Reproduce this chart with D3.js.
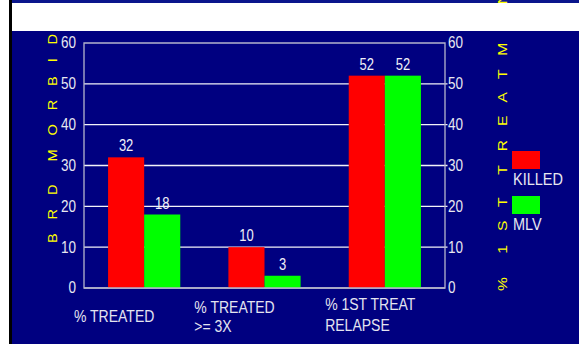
<!DOCTYPE html>
<html>
<head>
<meta charset="utf-8">
<script src="https://cdn.jsdelivr.net/npm/d3@7"></script>
<style>
  html, body { margin: 0; padding: 0; background: #ffffff; }
  svg { display: block; }
  text { font-family: "Liberation Sans", Arial, sans-serif; }
</style>
</head>
<body>
<svg id="chart" width="579" height="344"></svg>
<script>
// Data
const categories = ["% TREATED", "% TREATED >= 3X", "% 1ST TREAT RELAPSE"];
const categoryLines = [["% TREATED"], ["% TREATED", ">= 3X"], ["% 1ST TREAT", "RELAPSE"]];
const seriesNames = ["KILLED", "MLV"];
const killed = [32, 10, 52];
const mlv = [18, 3, 52];
const yTicks = [0, 10, 20, 30, 40, 50, 60];
const leftTitle = "B R D  M O R B I D";
const rightTitle = "%  1 S T  T R E A T M E N T";

const seriesValues = [killed, mlv];
const colors = ["#ff0000", "#00ff00"];

const svg = d3.select("#chart");
const W = 579, H = 344;
const plot = { left: 84, right: 445, top: 43, bottom: 288 };
const STRETCH = 1.2;

// slide background
svg.append("rect").attr("x", 0).attr("y", 0).attr("width", W).attr("height", H).attr("fill", "#000080");
svg.append("rect").attr("x", 0).attr("y", 0).attr("width", 9).attr("height", H).attr("fill", "#ffffff");
svg.append("rect").attr("x", 9).attr("y", 0).attr("width", 3).attr("height", H).attr("fill", "#000000");
svg.append("rect").attr("x", 12).attr("y", 0).attr("width", W - 12).attr("height", 3).attr("fill", "#0a168c");

const x = d3.scaleBand().domain(categories).range([plot.left, plot.right])
  .paddingInner(0.4).paddingOuter(0.2);
const xs = d3.scaleBand().domain(seriesNames).range([0, x.bandwidth()]);
const y = d3.scaleLinear().domain([0, 60]).range([plot.bottom, plot.top]);

// gridlines, continuing past the right edge as small ticks
svg.append("g").selectAll("line").data(yTicks.filter(t => t > 0 && t < 60)).join("line")
  .attr("x1", plot.left).attr("x2", plot.right + 2.5)
  .attr("y1", d => y(d)).attr("y2", d => y(d))
  .attr("stroke", "#f2f2f8").attr("stroke-width", 1.3);

// frame
svg.append("path")
  .attr("d", `M${plot.left},${y(0)}V${y(60)}H${plot.right}V${y(0)}Z`)
  .attr("fill", "none").attr("stroke", "#b4b4cc").attr("stroke-width", 1.3);

// bars
const groups = svg.append("g").selectAll("g").data(categories).join("g")
  .attr("transform", d => `translate(${x(d)},0)`);
groups.selectAll("rect")
  .data((d, i) => seriesNames.map((s, j) => ({ s, j, v: seriesValues[j][i] })))
  .join("rect")
  .attr("x", d => xs(d.s)).attr("width", xs.bandwidth())
  .attr("y", d => y(d.v)).attr("height", d => y(0) - y(d.v))
  .attr("fill", d => colors[d.j]);

// bottom axis line over bars
svg.append("line").attr("x1", plot.left).attr("x2", plot.right)
  .attr("y1", y(0)).attr("y2", y(0)).attr("stroke", "#b4b4cc").attr("stroke-width", 1.3);

// value labels
groups.selectAll("text.val")
  .data((d, i) => seriesNames.map((s, j) => ({ s, j, v: seriesValues[j][i] })))
  .join("text").attr("class", "val")
  .attr("transform", d => `translate(${xs(d.s) + xs.bandwidth() / 2},${y(d.v) - 6}) scale(1,${STRETCH})`)
  .attr("text-anchor", "middle").attr("font-size", 13).attr("fill", "#f0f0f8")
  .text(d => d.v);

// axes
function styleAxis(g, anchor) {
  g.select(".domain").remove();
  g.selectAll(".tick line").remove();
  g.selectAll(".tick text")
    .attr("fill", "#e8e8f0").attr("font-size", 13.5)
    .attr("font-family", '"Liberation Sans", Arial, sans-serif')
    .attr("text-anchor", anchor)
    .attr("transform", `scale(1,${STRETCH})`)
    .attr("dy", "0.3em");
}
svg.append("g").attr("transform", `translate(${plot.left - 8},0)`)
  .call(d3.axisLeft(y).tickValues(yTicks).tickSize(0).tickPadding(0))
  .call(g => styleAxis(g, "end"));
svg.append("g").attr("transform", `translate(${plot.right + 3},0)`)
  .call(d3.axisRight(y).tickValues(yTicks).tickSize(0).tickPadding(0))
  .call(g => styleAxis(g, "start"));

// category labels (text boxes under each group)
const labelPos = [{ dx: -10, y: [321.5] }, { dx: -10, y: [313, 332] }, { dx: 0.5, y: [310, 331] }];
categories.forEach((c, i) => {
  const band0 = x(c) - x.step() * 0.2;
  categoryLines[i].forEach((line, k) => {
    svg.append("text")
      .attr("transform", `translate(${band0 + labelPos[i].dx},${labelPos[i].y[k]}) scale(1,${STRETCH})`)
      .attr("font-size", 14).attr("fill", "#e4e4f0")
      .text(line);
  });
});

// axis titles: vertical, spaced-out capitals
svg.append("text")
  .attr("transform", "translate(56.5,243) rotate(-90) scale(1.12,1)")
  .attr("font-size", 13).attr("letter-spacing", 4.4).attr("fill", "#ffff00")
  .style("white-space", "pre")
  .text(leftTitle);
svg.append("text")
  .attr("transform", "translate(506.5,291) rotate(-90) scale(1.3,1)")
  .attr("font-size", 12).attr("letter-spacing", 3.75).attr("fill", "#ffff00")
  .style("white-space", "pre")
  .text(rightTitle);

// legend
const legend = svg.append("g").selectAll("g").data(seriesNames).join("g")
  .attr("transform", (d, i) => `translate(512,${151 + i * 45})`);
legend.append("rect").attr("width", 28).attr("height", 18).attr("fill", (d, i) => colors[i]);
legend.append("text")
  .attr("transform", `translate(1,34) scale(1,1.15)`)
  .attr("font-size", 14.5).attr("fill", "#e8e8f0")
  .text(d => d);

// title band
svg.append("rect").attr("x", 12).attr("y", 3).attr("width", W - 12).attr("height", 28).attr("fill", "#ffffff");
</script>
</body>
</html>
